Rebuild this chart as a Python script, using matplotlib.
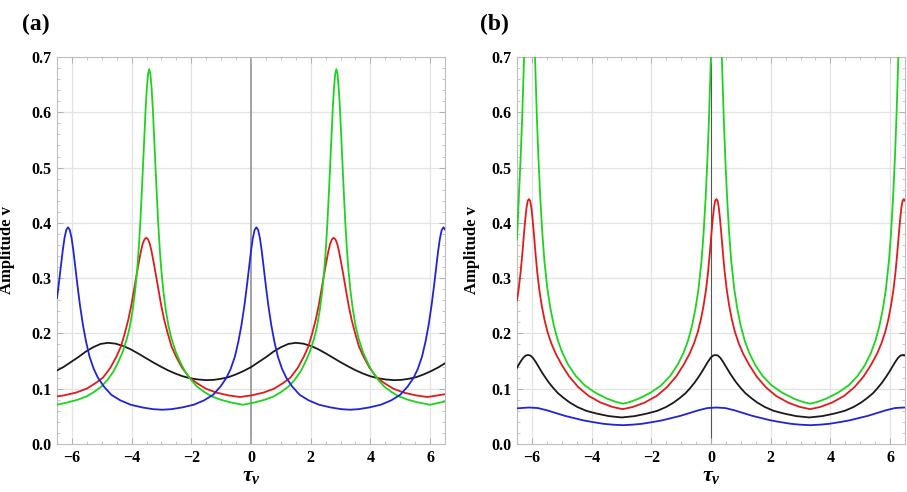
import matplotlib
matplotlib.use("Agg")
import matplotlib.pyplot as plt
from matplotlib.ticker import MultipleLocator, FixedLocator

# ---------------- Panel (a) data ----------------
a_green_x = [-6.5, -6.16, -5.81, -5.51, -5.26, -5.01, -4.81, -4.61, -4.46, -4.31, -4.16, -4.06, -3.96, -3.88,
             -3.81, -3.76, -3.71, -3.66, -3.61, -3.57, -3.53, -3.49, -3.45, -3.41,
             -3.37, -3.33, -3.29, -3.25, -3.21, -3.16, -3.11, -3.06, -3.01, -2.94, -2.86, -2.76, -2.66,
             -2.51, -2.36, -2.21, -2.01, -1.81, -1.56, -1.31, -1.01, -0.66, -0.275,
             0.11, 0.46, 0.76, 1.01, 1.26, 1.46, 1.66, 1.81, 1.96, 2.11, 2.21, 2.31, 2.39, 2.46, 2.51,
             2.56, 2.61, 2.66, 2.70, 2.74, 2.78, 2.82, 2.86,
             2.90, 2.94, 2.98, 3.02, 3.06, 3.11, 3.16, 3.21, 3.26, 3.33, 3.41, 3.51, 3.61, 3.76, 3.91,
             4.06, 4.26, 4.46, 4.71, 4.96, 5.26, 5.61, 6.0, 6.5]
a_green_y = [0.071, 0.075, 0.080, 0.086, 0.094, 0.104, 0.116, 0.131, 0.147, 0.165, 0.190, 0.212, 0.244, 0.278,
             0.318, 0.355, 0.400, 0.455, 0.513, 0.560, 0.607, 0.643, 0.669, 0.678,
             0.669, 0.643, 0.607, 0.560, 0.513, 0.455, 0.400, 0.355, 0.318, 0.278, 0.244, 0.212, 0.190,
             0.165, 0.147, 0.131, 0.116, 0.104, 0.094, 0.086, 0.080, 0.075, 0.071,
             0.075, 0.080, 0.086, 0.094, 0.104, 0.116, 0.131, 0.147, 0.165, 0.190, 0.212, 0.244, 0.278, 0.318, 0.355,
             0.400, 0.455, 0.513, 0.560, 0.607, 0.643, 0.669, 0.678,
             0.669, 0.643, 0.607, 0.560, 0.513, 0.455, 0.400, 0.355, 0.318, 0.278, 0.244, 0.212, 0.190, 0.165, 0.147,
             0.131, 0.116, 0.104, 0.094, 0.086, 0.080, 0.075, 0.071, 0.077]

a_red_x = [-6.5, -6.26, -5.86, -5.51, -5.21, -4.96, -4.71, -4.51, -4.36, -4.23, -4.11, -4.01, -3.91, -3.83,
           -3.76, -3.69, -3.63, -3.57, -3.51,
           -3.45, -3.39, -3.33, -3.26, -3.19, -3.11, -3.01, -2.91, -2.79, -2.66, -2.51, -2.31, -2.06,
           -1.81, -1.51, -1.16, -0.76, -0.37,
           0.02, 0.42, 0.77, 1.07, 1.32, 1.57, 1.77, 1.92, 2.05, 2.17, 2.27, 2.37, 2.45, 2.52, 2.59,
           2.65, 2.71, 2.77,
           2.83, 2.89, 2.95, 3.02, 3.09, 3.17, 3.27, 3.37, 3.49, 3.62, 3.77, 3.97, 4.22, 4.47, 4.77,
           5.12, 5.52, 5.91, 6.5]
a_red_y = [0.086, 0.088, 0.093, 0.100, 0.110, 0.120, 0.138, 0.158, 0.176, 0.200, 0.225, 0.251, 0.282, 0.307,
           0.328, 0.348, 0.362, 0.370, 0.373,
           0.370, 0.362, 0.348, 0.328, 0.307, 0.282, 0.251, 0.225, 0.200, 0.176, 0.158, 0.138, 0.120,
           0.110, 0.100, 0.093, 0.088, 0.085,
           0.088, 0.093, 0.100, 0.110, 0.120, 0.138, 0.158, 0.176, 0.200, 0.225, 0.251, 0.282, 0.307, 0.328, 0.348,
           0.362, 0.370, 0.373,
           0.370, 0.362, 0.348, 0.328, 0.307, 0.282, 0.251, 0.225, 0.200, 0.176, 0.158, 0.138, 0.120, 0.110, 0.100,
           0.093, 0.088, 0.085, 0.090]

a_blue_x = [-6.5, -6.45, -6.38, -6.31, -6.25, -6.19, -6.13,
            -6.07, -6.01, -5.95, -5.88, -5.81, -5.73, -5.63, -5.53, -5.41, -5.27, -5.13, -4.93, -4.68,
            -4.38, -4.03, -3.63, -3.28, -2.975,
            -2.67, -2.32, -1.92, -1.57, -1.27, -1.02, -0.82, -0.68, -0.54, -0.42, -0.32, -0.22, -0.14,
            -0.07, 0.0, 0.06, 0.12, 0.18,
            0.24, 0.30, 0.36, 0.43, 0.50, 0.58, 0.68, 0.78, 0.90, 1.04, 1.18, 1.38, 1.63, 1.93, 2.28,
            2.68, 3.03, 3.315,
            3.60, 3.95, 4.35, 4.70, 5.00, 5.25, 5.45, 5.59, 5.73, 5.85, 5.95, 6.05, 6.13, 6.20, 6.27,
            6.33, 6.39, 6.45, 6.5]
a_blue_y = [0.264, 0.285, 0.317, 0.349, 0.372, 0.387, 0.392,
            0.387, 0.372, 0.349, 0.317, 0.285, 0.251, 0.215, 0.186, 0.158, 0.136, 0.120, 0.104, 0.089,
            0.079, 0.071, 0.066, 0.063, 0.062,
            0.063, 0.066, 0.071, 0.079, 0.089, 0.104, 0.120, 0.136, 0.158, 0.186, 0.215, 0.251, 0.285,
            0.317, 0.349, 0.372, 0.387, 0.392,
            0.387, 0.372, 0.349, 0.317, 0.285, 0.251, 0.215, 0.186, 0.158, 0.136, 0.120, 0.104, 0.089, 0.079, 0.071,
            0.066, 0.063, 0.062,
            0.063, 0.066, 0.071, 0.079, 0.089, 0.104, 0.120, 0.136, 0.158, 0.186, 0.215, 0.251, 0.285, 0.317, 0.349,
            0.372, 0.387, 0.392, 0.388]

a_black_x = [-6.5, -6.29, -6.04, -5.79, -5.54, -5.29, -5.04, -4.79, -4.54, -4.29, -4.04, -3.79, -3.54,
             -3.29, -3.04, -2.79, -2.54, -2.29, -2.04, -1.79, -1.5, -1.25, -1.0, -0.75, -0.5, -0.25,
             0.0, 0.25, 0.5, 0.75, 1.0, 1.25, 1.5, 1.75, 2.0, 2.25, 2.5, 2.75, 3.0, 3.25, 3.5, 3.75,
             4.0, 4.25, 4.5, 4.79, 5.04, 5.29, 5.54, 5.79, 6.04, 6.29, 6.5]
a_black_y = [0.133, 0.139, 0.148, 0.157, 0.167, 0.175, 0.181, 0.183, 0.1815, 0.1775, 0.1715, 0.164, 0.156,
             0.148, 0.1405, 0.1335, 0.1275, 0.1225, 0.119, 0.1168, 0.1155, 0.116, 0.118, 0.121, 0.126, 0.132,
             0.139, 0.148, 0.157, 0.167, 0.175, 0.181, 0.183, 0.1815, 0.1775, 0.1715, 0.164, 0.156, 0.148, 0.1405,
             0.1335, 0.1275, 0.1225, 0.119, 0.1168, 0.1155, 0.116, 0.118, 0.121, 0.126, 0.132, 0.139, 0.146]

# ---------------- Panel (b) data ----------------
b_green_x = [-6.5, -6.44, -6.38, -6.33, -6.28, -6.23, -6.18, -6.13, -6.08,
             -6.03, -5.98, -5.93, -5.88, -5.83, -5.78, -5.72, -5.65, -5.58, -5.48, -5.38, -5.26, -5.13,
             -4.98, -4.78, -4.53, -4.23, -3.88, -3.48, -3.18, -2.95,
             -2.72, -2.42, -2.02, -1.67, -1.37, -1.12, -0.92, -0.77, -0.64, -0.52, -0.42, -0.32, -0.25,
             -0.18, -0.12, -0.07, -0.02, 0.03, 0.08, 0.13, 0.18,
             0.23, 0.28, 0.33, 0.38, 0.43, 0.48, 0.54, 0.61, 0.68, 0.78, 0.88, 1.00, 1.13, 1.28, 1.48,
             1.73, 2.03, 2.38, 2.78, 3.08, 3.32,
             3.56, 3.86, 4.26, 4.61, 4.91, 5.16, 5.36, 5.51, 5.64, 5.76, 5.86, 5.96, 6.03, 6.10, 6.16,
             6.21, 6.26, 6.31, 6.36, 6.41, 6.46, 6.5]
b_green_y = [0.37, 0.445, 0.515, 0.585, 0.67, 0.76, 0.85, 0.92, 0.95,
             0.92, 0.85, 0.76, 0.67, 0.585, 0.515, 0.445, 0.38, 0.33, 0.28, 0.245, 0.213, 0.187,
             0.165, 0.143, 0.123, 0.106, 0.093, 0.082, 0.076, 0.073,
             0.076, 0.082, 0.093, 0.106, 0.123, 0.143, 0.165, 0.187, 0.213, 0.245, 0.28, 0.33, 0.38,
             0.445, 0.515, 0.585, 0.67, 0.76, 0.85, 0.92, 0.95,
             0.92, 0.85, 0.76, 0.67, 0.585, 0.515, 0.445, 0.38, 0.33, 0.28, 0.245, 0.213, 0.187, 0.165, 0.143,
             0.123, 0.106, 0.093, 0.082, 0.076, 0.073,
             0.076, 0.082, 0.093, 0.106, 0.123, 0.143, 0.165, 0.187, 0.213, 0.245, 0.28, 0.33, 0.38, 0.445, 0.515,
             0.585, 0.67, 0.76, 0.85, 0.92, 0.95, 0.93]

b_red_x = [-6.5, -6.45, -6.38, -6.32, -6.26, -6.22, -6.18, -6.14, -6.1,
           -6.06, -6.02, -5.98, -5.94, -5.88, -5.82, -5.75, -5.67, -5.58, -5.48, -5.35, -5.2, -5.0,
           -4.75, -4.45, -4.1, -3.7, -3.3, -2.96,
           -2.62, -2.22, -1.82, -1.47, -1.17, -0.92, -0.72, -0.57, -0.44, -0.34, -0.25, -0.17, -0.10,
           -0.04, 0.02, 0.06, 0.10, 0.14, 0.18,
           0.22, 0.26, 0.30, 0.34, 0.40, 0.46, 0.53, 0.61, 0.70, 0.80, 0.93, 1.08, 1.28, 1.53, 1.83,
           2.18, 2.58, 2.98, 3.32,
           3.66, 4.06, 4.46, 4.81, 5.11, 5.36, 5.56, 5.71, 5.84, 5.94, 6.03, 6.11, 6.18, 6.24, 6.30,
           6.34, 6.38, 6.42, 6.46, 6.5]
b_red_y = [0.26, 0.278, 0.31, 0.345, 0.384, 0.408, 0.428, 0.44, 0.443,
           0.44, 0.428, 0.408, 0.384, 0.345, 0.31, 0.278, 0.25, 0.225, 0.203, 0.182, 0.163, 0.143,
           0.122, 0.103, 0.087, 0.075, 0.067, 0.063,
           0.067, 0.075, 0.087, 0.103, 0.122, 0.143, 0.163, 0.182, 0.203, 0.225, 0.25, 0.278, 0.31,
           0.345, 0.384, 0.408, 0.428, 0.44, 0.443,
           0.44, 0.428, 0.408, 0.384, 0.345, 0.31, 0.278, 0.25, 0.225, 0.203, 0.182, 0.163, 0.143, 0.122, 0.103,
           0.087, 0.075, 0.067, 0.063,
           0.067, 0.075, 0.087, 0.103, 0.122, 0.143, 0.163, 0.182, 0.203, 0.225, 0.25, 0.278, 0.31, 0.345, 0.384,
           0.408, 0.428, 0.44, 0.443, 0.44]

b_black_x = [-6.5, -6.38, -6.29, -6.21, -6.13,
             -6.05, -5.97, -5.88, -5.78, -5.68, -5.56, -5.43, -5.28, -5.13, -4.93, -4.73, -4.48, -4.18,
             -3.83, -3.43, -2.99,
             -2.55, -2.15, -1.8, -1.5, -1.25, -1.05, -0.85, -0.70, -0.55, -0.42, -0.30, -0.20, -0.10,
             -0.01, 0.07, 0.15,
             0.23, 0.31, 0.40, 0.50, 0.60, 0.72, 0.85, 1.00, 1.15, 1.35, 1.55, 1.80, 2.10, 2.45, 2.85,
             3.29,
             3.73, 4.13, 4.48, 4.78, 5.03, 5.23, 5.43, 5.58, 5.73, 5.86, 5.98, 6.08, 6.18, 6.27, 6.35,
             6.43, 6.5]
b_black_y = [0.138, 0.149, 0.156, 0.160, 0.161,
             0.160, 0.156, 0.149, 0.140, 0.131, 0.121, 0.111, 0.101, 0.092, 0.083, 0.075, 0.067, 0.060,
             0.055, 0.0505, 0.048,
             0.0505, 0.055, 0.060, 0.067, 0.075, 0.083, 0.092, 0.101, 0.111, 0.121, 0.131, 0.140, 0.149,
             0.156, 0.160, 0.161,
             0.160, 0.156, 0.149, 0.140, 0.131, 0.121, 0.111, 0.101, 0.092, 0.083, 0.075, 0.067, 0.060, 0.055, 0.0505,
             0.048,
             0.0505, 0.055, 0.060, 0.067, 0.075, 0.083, 0.092, 0.101, 0.111, 0.121, 0.131, 0.140, 0.149, 0.156, 0.160,
             0.161, 0.1605]

b_blue_x = [-6.5, -6.1, -5.8, -5.5, -5.2, -4.9, -4.6, -4.3, -4.0, -3.6, -3.3, -2.96, -2.62, -2.32, -1.92,
            -1.62, -1.32, -1.02, -0.72, -0.42, -0.12, 0.18, 0.48, 0.78, 1.08, 1.38, 1.68, 1.98, 2.28, 2.68,
            2.98, 3.32, 3.66, 3.96, 4.36, 4.66, 4.96, 5.26, 5.56, 5.86, 6.16, 6.46, 6.5]
b_blue_y = [0.0645, 0.066, 0.065, 0.061, 0.056, 0.051, 0.047, 0.043, 0.040, 0.0365, 0.035, 0.034, 0.035,
            0.0365, 0.040, 0.043, 0.047, 0.051, 0.056, 0.061, 0.065, 0.066, 0.065, 0.061, 0.056, 0.051, 0.047,
            0.043, 0.040, 0.0365, 0.035, 0.034, 0.035, 0.0365, 0.040, 0.043, 0.047, 0.051, 0.056, 0.061, 0.065,
            0.066, 0.066]

x_ticks = [-6, -4, -2, 0, 2, 4, 6]
y_ticks = [0.0, 0.1, 0.2, 0.3, 0.4, 0.5, 0.6, 0.7]
panel_labels = ["(a)", "(b)"]
y_label = "Amplitude v"

GREEN = "#1ed31e"
RED = "#e01b1b"
BLUE = "#2323d6"
BLACK = "#1a1a1a"

plt.rcParams["mathtext.fontset"] = "custom"
plt.rcParams["mathtext.it"] = "Liberation Serif:italic:bold"
plt.rcParams["mathtext.rm"] = "Liberation Serif:bold"
plt.rcParams["mathtext.bf"] = "Liberation Serif:bold"

fig = plt.figure(figsize=(9.07, 4.92), dpi=100)
W, H = 907.0, 492.0
ax_a = fig.add_axes([57 / W, 48 / H, 388 / W, 387 / H])
ax_b = fig.add_axes([517 / W, 48 / H, 388 / W, 387 / H])

tick_font = dict(family="Liberation Serif", weight="bold", size=11.5)

def style(ax, zero_color, zero_lw, ylab_x):
    ax.set_xlim(-6.5, 6.5)
    ax.set_ylim(0.0, 0.7)
    for v in x_ticks:
        if v == 0:
            continue
        ax.axvline(v, color="#e3e3e3", lw=0.9, zorder=0)
    for v in y_ticks[1:-1]:
        ax.axhline(v, color="#e3e3e3", lw=0.9, zorder=0)
    ax.axvline(0, color=zero_color, lw=zero_lw, zorder=1)
    ax.xaxis.set_major_locator(FixedLocator(x_ticks))
    ax.yaxis.set_major_locator(FixedLocator(y_ticks))
    ax.xaxis.set_minor_locator(MultipleLocator(0.5))
    ax.yaxis.set_minor_locator(MultipleLocator(0.02))
    ax.tick_params(which="both", direction="in", color="#b0b0b0", top=True, right=True)
    ax.tick_params(which="major", length=4, width=0.7)
    ax.tick_params(which="minor", length=2, width=0.5)
    ax.tick_params(axis="x", pad=4)
    ax.tick_params(axis="y", pad=4)
    ax.set_xticklabels(["\u2212" + str(-v) if v < 0 else str(v) for v in x_ticks], fontdict=tick_font)
    ax.set_yticklabels(["%.1f" % v for v in y_ticks], fontdict=tick_font)
    for s in ax.spines.values():
        s.set_color("#bdbdbd")
        s.set_linewidth(0.8)
    ax.set_ylabel(y_label, family="Liberation Serif", weight="bold", size=12)
    ax.yaxis.set_label_coords(ylab_x, 0.5)
    ax.set_xlabel(r"$\tau_v$", size=16)
    ax.xaxis.set_label_coords(0.5, -0.057)

style(ax_a, "#9a9a9a", 1.3, -0.108)
style(ax_b, "#555555", 0.8, -0.095)

lw = 1.3
ax_a.plot(a_black_x, a_black_y, color=BLACK, lw=lw, zorder=3)
ax_a.plot(a_red_x, a_red_y, color=RED, lw=lw, zorder=4)
ax_a.plot(a_green_x, a_green_y, color=GREEN, lw=lw, zorder=5)
ax_a.plot(a_blue_x, a_blue_y, color=BLUE, lw=lw, zorder=6)

ax_b.plot(b_blue_x, b_blue_y, color=BLUE, lw=lw, zorder=3)
ax_b.plot(b_black_x, b_black_y, color=BLACK, lw=lw, zorder=4)
ax_b.plot(b_red_x, b_red_y, color=RED, lw=lw, zorder=5)
ax_b.plot(b_green_x, b_green_y, color=GREEN, lw=lw, zorder=6)

fig.text(22 / W, 1 - 24 / H, panel_labels[0], family="Liberation Serif", weight="bold", size=17, va="center", ha="left")
fig.text(480 / W, 1 - 24 / H, panel_labels[1], family="Liberation Serif", weight="bold", size=17, va="center", ha="left")

fig.savefig("out.png", dpi=100)
